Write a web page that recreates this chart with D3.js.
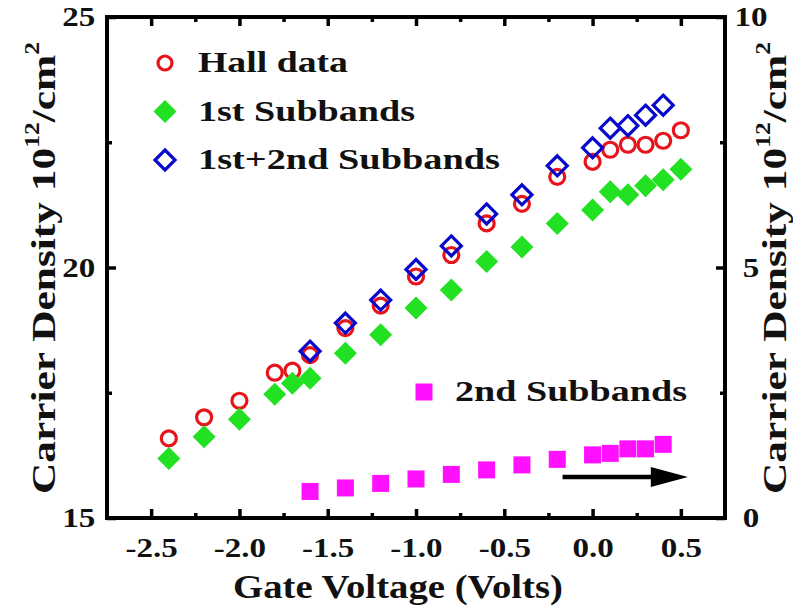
<!DOCTYPE html>
<html>
<head>
<meta charset="utf-8">
<script src="https://cdn.jsdelivr.net/npm/d3@7"></script>
<style>
  body { margin: 0; background: #fff; }
  text { font-family: "Liberation Serif", "Times New Roman", serif; font-weight: bold; fill: #111; }
</style>
</head>
<body>
<div id="chart"></div>
<script>
// gate voltages (V) and the measured / calculated densities (10^12 / cm^2)
const hallV = [-2.4, -2.2, -2.0, -1.8, -1.7, -1.6, -1.4, -1.2, -1.0, -0.8, -0.6, -0.4, -0.2, 0.0, 0.1, 0.2, 0.3, 0.4, 0.5];
const hallN = [16.59, 17.01, 17.34, 17.90, 17.94, 18.25, 18.79, 19.24, 19.82, 20.25, 20.88, 21.27, 21.81, 22.11, 22.35, 22.45, 22.45, 22.53, 22.74];

const firstV = [-2.4, -2.2, -2.0, -1.8, -1.7, -1.6, -1.4, -1.2, -1.0, -0.8, -0.6, -0.4, -0.2, 0.0, 0.1, 0.2, 0.3, 0.4, 0.5];
const firstN = [16.19, 16.62, 16.97, 17.47, 17.69, 17.79, 18.29, 18.66, 19.19, 19.55, 20.12, 20.41, 20.88, 21.15, 21.51, 21.45, 21.63, 21.75, 21.96];

const bothV = [-1.6, -1.4, -1.2, -1.0, -0.8, -0.6, -0.4, -0.2, 0.0, 0.1, 0.2, 0.3, 0.4];
const bothN = [18.33, 18.89, 19.35, 19.96, 20.43, 21.07, 21.45, 22.03, 22.39, 22.78, 22.83, 23.04, 23.24];

// 2nd subband is read on the right axis
const secondV = [-1.6, -1.4, -1.2, -1.0, -0.8, -0.6, -0.4, -0.2, 0.0, 0.1, 0.2, 0.3, 0.4];
const secondN = [0.53, 0.60, 0.69, 0.78, 0.87, 0.96, 1.06, 1.17, 1.26, 1.29, 1.38, 1.38, 1.47];

const xTicks = [-2.5, -2.0, -1.5, -1.0, -0.5, 0.0, 0.5];
const xMinor = [-2.25, -1.75, -1.25, -0.75, -0.25, 0.25];
const yLeftTicks = [15, 20, 25];
const yLeftMinor = [17.5, 22.5];
const yRightTicks = [0, 5, 10];
const yRightMinor = [2.5, 7.5];

const W = 793, H = 608;
const svg = d3.select("#chart").append("svg")
    .attr("width", W)
    .attr("height", H);

// plot frame in pixels
const frame = {left: 107, right: 725, top: 17, bottom: 518};

const x = d3.scaleLinear().domain([-2.75, 0.75]).range([frame.left, frame.right]);
const yL = d3.scaleLinear().domain([15, 25]).range([frame.bottom, frame.top]);
const yR = d3.scaleLinear().domain([0, 10]).range([frame.bottom, frame.top]);

// axes - ticks point inward like the original
function styleAxis(g) {
  g.select(".domain").remove();
  g.selectAll(".tick line").attr("stroke", "#000").attr("stroke-width", 3.5);
  g.selectAll(".tick text").style("font-size", "28px").attr("fill", "#111");
}

svg.append("g")
  .attr("transform", `translate(0,${frame.bottom})`)
  .call(d3.axisBottom(x).tickValues(xTicks).tickSize(-9).tickPadding(19).tickFormat(d => d.toFixed(1)))
  .call(styleAxis)
  .call(g => g.selectAll(".tick text").attr("transform", "scale(1.18,1)"));
svg.append("g")
  .attr("transform", `translate(0,${frame.bottom})`)
  .call(d3.axisBottom(x).tickValues(xMinor).tickSize(-5).tickFormat(""))
  .call(styleAxis);
svg.append("g")
  .attr("transform", `translate(0,${frame.top})`)
  .call(d3.axisTop(x).tickValues(xTicks).tickSize(-9).tickFormat(""))
  .call(styleAxis);
svg.append("g")
  .attr("transform", `translate(0,${frame.top})`)
  .call(d3.axisTop(x).tickValues(xMinor).tickSize(-5).tickFormat(""))
  .call(styleAxis);

svg.append("g")
  .attr("transform", `translate(${frame.left},0)`)
  .call(d3.axisLeft(yL).tickValues(yLeftTicks).tickSize(-9).tickPadding(10).tickFormat(d3.format("d")))
  .call(styleAxis)
  .call(g => g.selectAll(".tick text").attr("x", -10).attr("transform", "scale(1.18,1)"));
svg.append("g")
  .attr("transform", `translate(${frame.left},0)`)
  .call(d3.axisLeft(yL).tickValues(yLeftMinor).tickSize(-5).tickFormat(""))
  .call(styleAxis);
svg.append("g")
  .attr("transform", `translate(${frame.right},0)`)
  .call(d3.axisRight(yR).tickValues(yRightTicks).tickSize(-9).tickFormat(d3.format("d")))
  .call(styleAxis)
  .call(g => g.selectAll(".tick text").attr("text-anchor", "middle").attr("x", 22).attr("transform", "scale(1.18,1)"));
svg.append("g")
  .attr("transform", `translate(${frame.right},0)`)
  .call(d3.axisRight(yR).tickValues(yRightMinor).tickSize(-5).tickFormat(""))
  .call(styleAxis);

// thick frame
svg.append("rect")
  .attr("x", frame.left).attr("y", frame.top)
  .attr("width", frame.right - frame.left).attr("height", frame.bottom - frame.top)
  .attr("fill", "none").attr("stroke", "#000").attr("stroke-width", 4);

// markers
const diamond = r => `M0,${-r}L${r},0L0,${r}L${-r},0Z`;
const red = "#e8141c", green = "#22e022", blue = "#0808cc", magenta = "#ff10ff";

svg.append("g").selectAll("circle")
  .data(hallV.map((v, i) => [v, hallN[i]]))
  .join("circle")
    .attr("cx", d => x(d[0])).attr("cy", d => yL(d[1]))
    .attr("r", 7.5)
    .attr("fill", "none").attr("stroke", red).attr("stroke-width", 3.2);

svg.append("g").selectAll("path")
  .data(firstV.map((v, i) => [v, firstN[i]]))
  .join("path")
    .attr("transform", d => `translate(${x(d[0])},${yL(d[1])})`)
    .attr("d", diamond(11.5))
    .attr("fill", green);

svg.append("g").selectAll("path")
  .data(bothV.map((v, i) => [v, bothN[i]]))
  .join("path")
    .attr("transform", d => `translate(${x(d[0])},${yL(d[1])})`)
    .attr("d", diamond(10))
    .attr("fill", "none").attr("stroke", blue).attr("stroke-width", 3.2);

svg.append("g").selectAll("rect")
  .data(secondV.map((v, i) => [v, secondN[i]]))
  .join("rect")
    .attr("x", d => x(d[0]) - 8.5).attr("y", d => yR(d[1]) - 8.5)
    .attr("width", 17).attr("height", 17)
    .attr("fill", magenta);

// legend
const legend = [
  {mark: "circle", text: "Hall data", len: 150},
  {mark: "fill", text: "1st Subbands", len: 217},
  {mark: "open", text: "1st+2nd Subbands", len: 302}
];
legend.forEach((it, i) => {
  const cy = 63 + i * 48.5;
  if (it.mark === "circle") {
    svg.append("circle").attr("cx", 165).attr("cy", cy).attr("r", 7)
      .attr("fill", "none").attr("stroke", red).attr("stroke-width", 3.2);
  } else if (it.mark === "fill") {
    svg.append("path").attr("transform", `translate(165,${cy})`).attr("d", diamond(11.5)).attr("fill", green);
  } else {
    svg.append("path").attr("transform", `translate(165,${cy})`).attr("d", diamond(10))
      .attr("fill", "none").attr("stroke", blue).attr("stroke-width", 3.2);
  }
  svg.append("text")
    .attr("x", 198).attr("y", cy + 9)
    .style("font-size", "29px")
    .attr("textLength", it.len).attr("lengthAdjust", "spacingAndGlyphs")
    .text(it.text);
});

svg.append("rect").attr("x", 415.5).attr("y", 383.5).attr("width", 17).attr("height", 17).attr("fill", magenta);
svg.append("text")
  .attr("x", 455).attr("y", 401)
  .style("font-size", "29px")
  .attr("textLength", 232).attr("lengthAdjust", "spacingAndGlyphs")
  .text("2nd Subbands");

// arrow pointing to the right axis
const arrowY = yR(0.82);
svg.append("line")
  .attr("x1", x(-0.17)).attr("x2", x(0.36))
  .attr("y1", arrowY).attr("y2", arrowY)
  .attr("stroke", "#000").attr("stroke-width", 4.5);
svg.append("path")
  .attr("d", `M${x(0.33)},${arrowY - 10}L${x(0.54)},${arrowY}L${x(0.33)},${arrowY + 10}Z`)
  .attr("fill", "#000");

// axis titles
svg.append("text")
  .attr("x", 398).attr("y", 598)
  .attr("text-anchor", "middle")
  .style("font-size", "33px")
  .attr("textLength", 330).attr("lengthAdjust", "spacingAndGlyphs")
  .text("Gate Voltage (Volts)");

function densityTitle(cx) {
  const t = svg.append("text")
    .attr("transform", `translate(${cx},268) rotate(-90)`)
    .attr("text-anchor", "middle")
    .style("font-size", "34px")
    .attr("textLength", 452).attr("lengthAdjust", "spacingAndGlyphs");
  t.append("tspan").text("Carrier Density 10");
  t.append("tspan").attr("dy", -16).style("font-size", "20px").text("12");
  t.append("tspan").attr("dy", 16).text("/cm");
  t.append("tspan").attr("dy", -16).style("font-size", "20px").text("2");
}
densityTitle(55);
densityTitle(786);
</script>
</body>
</html>
